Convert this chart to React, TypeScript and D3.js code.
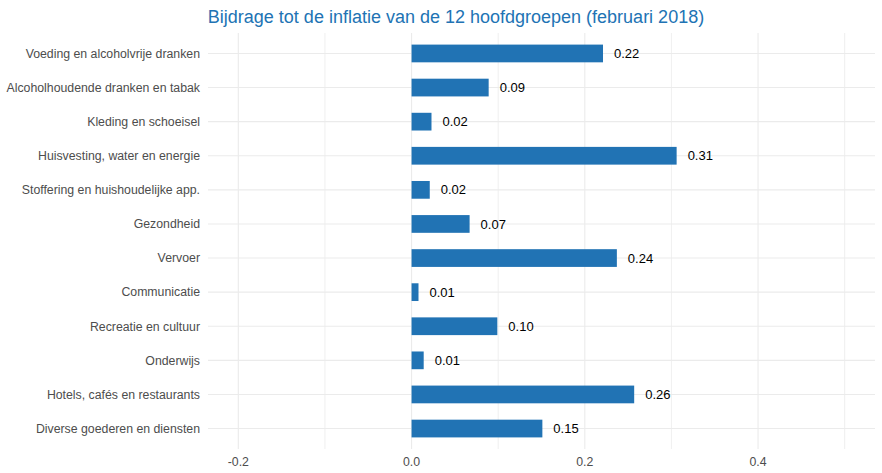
import React from "react";
import * as d3 from "d3";

const categories = [
  "Voeding en alcoholvrije dranken",
  "Alcoholhoudende dranken en tabak",
  "Kleding en schoeisel",
  "Huisvesting, water en energie",
  "Stoffering en huishoudelijke app.",
  "Gezondheid",
  "Vervoer",
  "Communicatie",
  "Recreatie en cultuur",
  "Onderwijs",
  "Hotels, cafés en restaurants",
  "Diverse goederen en diensten",
];
const values = [0.221, 0.089, 0.023, 0.306, 0.021, 0.067, 0.237, 0.008, 0.099, 0.014, 0.257, 0.151];
const valueLabels = ["0.22", "0.09", "0.02", "0.31", "0.02", "0.07", "0.24", "0.01", "0.10", "0.01", "0.26", "0.15"];
const xTicks = [-0.2, 0, 0.2, 0.4];
const xTickLabels = ["-0.2", "0.0", "0.2", "0.4"];
const xMinorTicks = [-0.1, 0.1, 0.3, 0.5];
const title = "Bijdrage tot de inflatie van de 12 hoofdgroepen (februari 2018)";

const W = 882;
const H = 473;
const panel = { left: 208, right: 875, top: 33, bottom: 449 };
const barColor = "#2173b4";
const gridColor = "#ebebeb";
const font = "'Liberation Sans', Arial, sans-serif";

export default function App() {
  const lim = [-0.2, 0.5];
  const pad = (lim[1] - lim[0]) * 0.05;
  const x = d3.scaleLinear().domain([lim[0] - pad, lim[1] + pad]).range([panel.left, panel.right]);
  const n = categories.length;
  const step = (panel.bottom - panel.top) / (n - 1 + 1.2);
  const yc = (i: number) => panel.top + (0.6 + i) * step;
  const barH = step * 0.52;

  return (
    <svg width={W} height={H} style={{ display: "block", position: "absolute", left: 0, top: 0 }} fontFamily={font}>
      <rect width={W} height={H} fill="#fff" />
      {xMinorTicks.map((t) => (
        <line key={"m" + t} x1={x(t)} x2={x(t)} y1={panel.top} y2={panel.bottom} stroke={gridColor} strokeWidth={0.8} />
      ))}
      {xTicks.map((t) => (
        <line key={"g" + t} x1={x(t)} x2={x(t)} y1={panel.top} y2={panel.bottom} stroke={gridColor} strokeWidth={1.1} />
      ))}
      {categories.map((c, i) => (
        <line key={"h" + c} x1={panel.left} x2={panel.right} y1={yc(i)} y2={yc(i)} stroke={gridColor} strokeWidth={1.1} />
      ))}
      {values.map((v, i) => (
        <rect key={"b" + i} x={x(0)} y={yc(i) - barH / 2} width={x(v) - x(0)} height={barH} fill={barColor} />
      ))}
      {values.map((v, i) => (
        <text key={"v" + i} x={x(v) + 11} y={yc(i)} dy="0.35em" fontSize={13} fill="#000">
          {valueLabels[i]}
        </text>
      ))}
      {categories.map((c, i) => (
        <text key={"c" + i} x={panel.left - 8} y={yc(i)} dy="0.35em" textAnchor="end" fontSize={12.3} fill="#4d4d4d">
          {c}
        </text>
      ))}
      {xTicks.map((t, i) => (
        <text key={"t" + t} x={x(t)} y={462} dy="0.35em" textAnchor="middle" fontSize={12.3} fill="#4d4d4d">
          {xTickLabels[i]}
        </text>
      ))}
      <text x={456} y={23} textAnchor="middle" fontSize={18} fill="#2173b4">
        {title}
      </text>
    </svg>
  );
}
